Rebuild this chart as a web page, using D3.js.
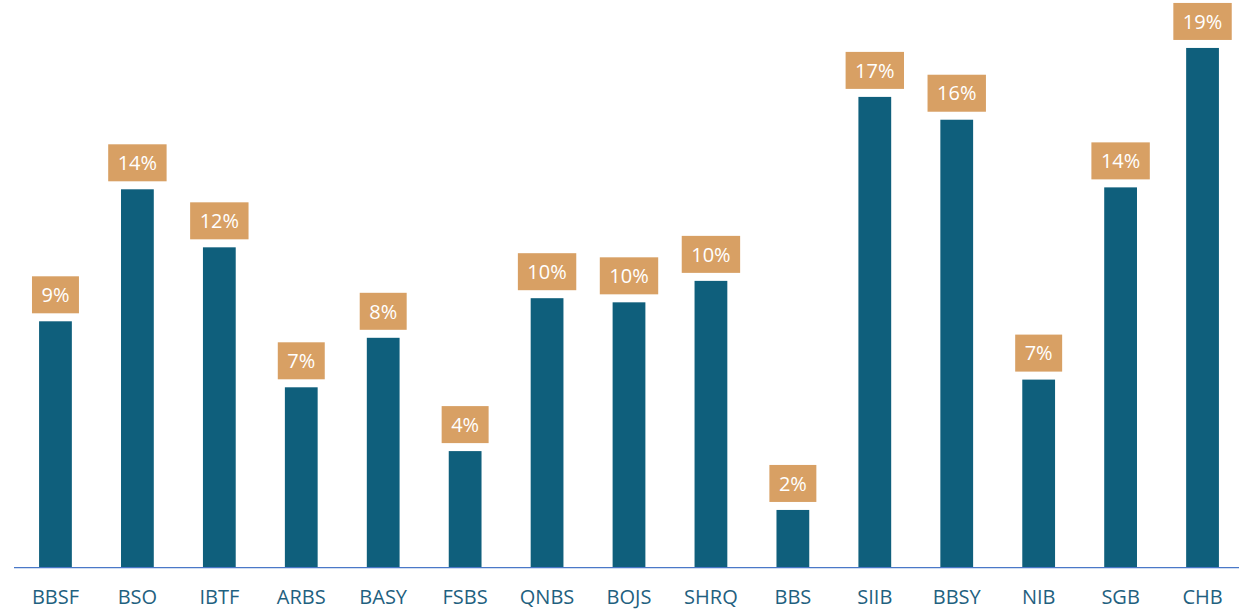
<!DOCTYPE html>
<html>
<head>
<meta charset="utf-8">
<script src="https://cdn.jsdelivr.net/npm/d3@7"></script>
<style>
  body { margin: 0; background: #fff; }
  svg { display: block; }
</style>
</head>
<body>
<script>
// data
const banks = ["BBSF", "BSO", "IBTF", "ARBS", "BASY", "FSBS", "QNBS", "BOJS", "SHRQ", "BBS", "SIIB", "BBSY", "NIB", "SGB", "CHB"];
const shares = [8.96, 13.76, 11.65, 6.56, 8.36, 4.24, 9.80, 9.65, 10.43, 2.10, 17.12, 16.29, 6.84, 13.83, 18.90];
const yDomain = [0, 20];

const W = 1239, H = 612;
const baseline = 567.7;

const svg = d3.select("body").append("svg")
  .attr("width", W)
  .attr("height", H);

const x = d3.scaleBand()
  .domain(banks)
  .range([14.5, 1243.5])
  .paddingInner(0.6)
  .paddingOuter(0.3);

const y = d3.scaleLinear()
  .domain(yDomain)
  .range([baseline, baseline - 20 * 27.5]);

const rows = banks.map((b, i) => ({ bank: b, v: shares[i] }));

svg.selectAll("rect.bar")
  .data(rows)
  .enter()
  .append("rect")
  .attr("class", "bar")
  .attr("x", d => x(d.bank))
  .attr("y", d => y(d.v))
  .attr("width", x.bandwidth())
  .attr("height", d => baseline - y(d.v))
  .attr("fill", "#0f5f7c");

// axis line + category labels
const xAxis = d3.axisBottom(x).tickSize(0).tickPadding(22);
const gx = svg.append("g")
  .attr("transform", "translate(0," + baseline + ")")
  .call(xAxis);
gx.select(".domain").remove();
gx.selectAll("text")
  .style("font-family", "'Open Sans', sans-serif")
  .style("font-size", "20px")
  .attr("fill", "#1f6180");

svg.append("line")
  .attr("x1", 14).attr("x2", W)
  .attr("y1", baseline).attr("y2", baseline)
  .attr("stroke", "#4a78c8")
  .attr("stroke-width", 1.2);

// value labels in orange boxes
const lab = svg.selectAll("g.lab")
  .data(rows)
  .enter()
  .append("g")
  .attr("class", "lab");

const boxH = 37, gap = 8;

lab.append("rect")
  .attr("fill", "#d8a064");

lab.append("text")
  .attr("x", d => x(d.bank) + x.bandwidth() / 2)
  .attr("y", d => y(d.v) - gap - boxH / 2)
  .attr("dy", "0.36em")
  .attr("text-anchor", "middle")
  .style("font-family", "'Open Sans', sans-serif")
  .style("font-size", "20px")
  .attr("fill", "#fff")
  .text(d => Math.round(d.v) + "%");

lab.each(function(d) {
  const g = d3.select(this);
  const tw = g.select("text").node().getComputedTextLength();
  const bw = tw + 19;
  const cx = x(d.bank) + x.bandwidth() / 2;
  g.select("rect")
    .attr("x", cx - bw / 2)
    .attr("y", y(d.v) - gap - boxH)
    .attr("width", bw)
    .attr("height", boxH);
});
</script>
</body>
</html>
